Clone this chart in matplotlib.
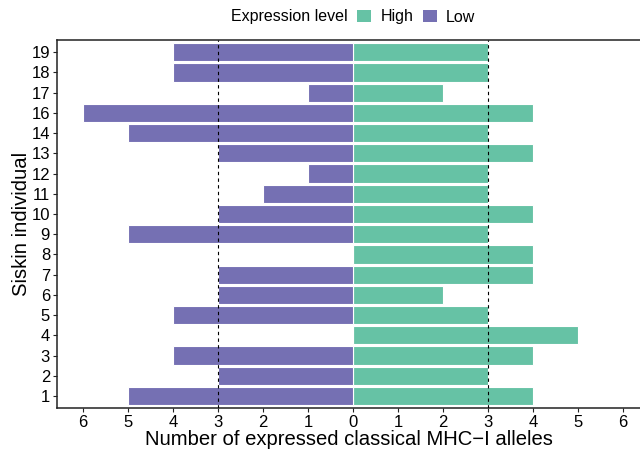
import numpy as np
import matplotlib
matplotlib.use("Agg")
import matplotlib.pyplot as plt
from matplotlib.patches import Patch

plt.rcParams['font.family'] = ['Liberation Sans', 'DejaVu Sans']

individuals = ["1", "2", "3", "4", "5", "6", "7", "8", "9", "10",
               "11", "12", "13", "14", "16", "17", "18", "19"]
high = [4, 3, 4, 5, 3, 2, 4, 4, 3, 4, 3, 3, 4, 3, 4, 2, 3, 3]
low = [5, 3, 4, 0, 4, 3, 3, 0, 5, 3, 2, 1, 3, 5, 6, 1, 4, 4]
xticks = [-6, -5, -4, -3, -2, -1, 0, 1, 2, 3, 4, 5, 6]

col_high = "#66c2a5"
col_low = "#7570b3"

fig = plt.figure(figsize=(6.4, 4.5), dpi=100)
ax = fig.add_axes([0.089, 0.093, 0.911, 0.818])

y = np.arange(len(individuals))
ax.barh(y, high, height=0.9, color=col_high, edgecolor="white", linewidth=0.8)
ax.barh(y, [-v for v in low], height=0.9, color=col_low, edgecolor="white", linewidth=0.8)

for xv in (-3, 3):
    ax.axvline(xv, color="black", linestyle=(0, (3, 3)), linewidth=0.8, zorder=3)

ax.set_xlim(-6.58, 6.38)
ax.set_ylim(-0.6, len(individuals) - 0.4)
ax.set_yticks(y)
ax.set_yticklabels(individuals)
ax.set_xticks(xticks)
ax.set_xticklabels([str(abs(t)) for t in xticks])

for s in ("left", "bottom", "top"):
    ax.spines[s].set_color("#222222")
    ax.spines[s].set_linewidth(1.1)
ax.spines["right"].set_visible(False)
ax.tick_params(axis="both", labelsize=12, colors="#222222", length=3, width=0.8,
               labelcolor="black", pad=2)

ax.set_xlabel("Number of expressed classical MHC\u2212I alleles", fontsize=14.6, labelpad=0)
ax.set_ylabel("Siskin individual", fontsize=14.6, labelpad=0)

# legend on one line: title then keys
fig.text(348 / 640, 1 - 17 / 450, "Expression level", ha="right", va="center",
         fontsize=11.5)
handles = [Patch(facecolor=col_high, edgecolor="none", label="High"),
           Patch(facecolor=col_low, edgecolor="none", label="Low")]
fig.legend(handles=handles, loc="center left",
           bbox_to_anchor=(357 / 640, 1 - 17 / 450), ncol=2, frameon=False,
           fontsize=11.5, handlelength=0.87, handleheight=0.87, borderpad=0,
           borderaxespad=0, handletextpad=0.6, columnspacing=0.58)

fig.savefig("out.png", dpi=100)
